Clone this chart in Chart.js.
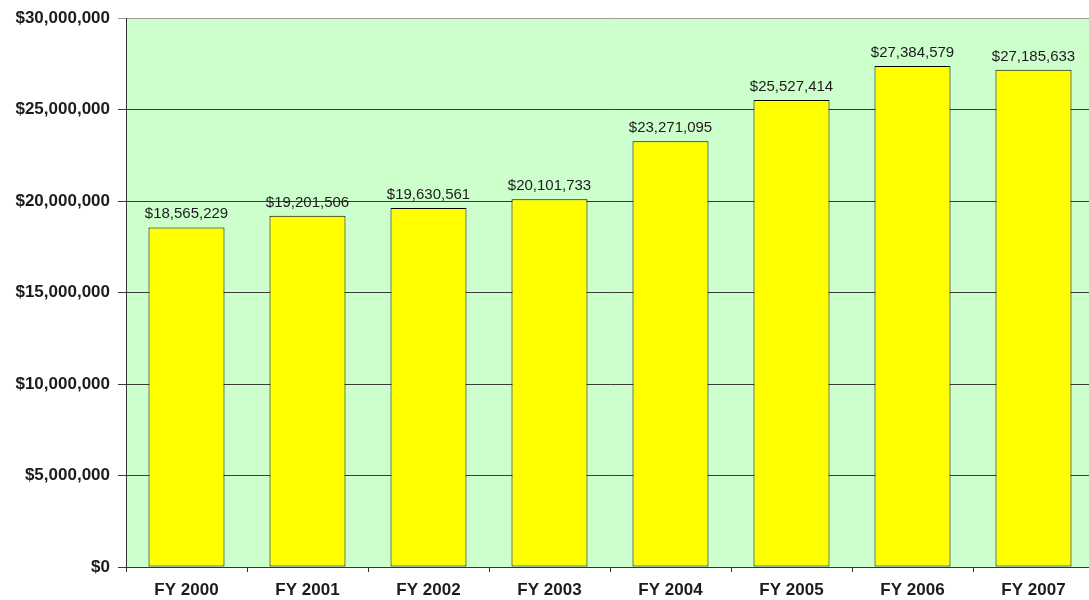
<!DOCTYPE html>
<html>
<head>
<meta charset="utf-8">
<script src="https://cdn.jsdelivr.net/npm/chart.js@4"></script>
<style>
  html, body { margin: 0; padding: 0; background: #fff; overflow: hidden; }
  #wrap { width: 1095px; height: 600px; }
</style>
</head>
<body>
<div id="wrap"><canvas id="fundingChart"></canvas></div>
<script>
// dados do gráfico
const categorias = ['FY 2000', 'FY 2001', 'FY 2002', 'FY 2003', 'FY 2004', 'FY 2005', 'FY 2006', 'FY 2007'];
const valores = [18565229, 19201506, 19630561, 20101733, 23271095, 25527414, 27384579, 27185633];
const yMin = 0;
const yMax = 30000000;
const yPasso = 5000000;

const fmtDolar = v => '$' + Number(v).toLocaleString('en-US');

// fundo verde da área do gráfico
const fundoArea = {
    id: 'fundoArea',
    beforeDraw(chart) {
        const { ctx, chartArea: a } = chart;
        ctx.save();
        ctx.fillStyle = '#ccffcc';
        ctx.fillRect(a.left, a.top, a.right - a.left, a.bottom - a.top);
        ctx.restore();
    }
};

// rótulos de valor acima das barras
const rotulosValor = {
    id: 'rotulosValor',
    afterDatasetsDraw(chart) {
        const { ctx } = chart;
        const meta = chart.getDatasetMeta(0);
        ctx.save();
        ctx.font = '15px "Liberation Sans", Arial, sans-serif';
        ctx.fillStyle = '#1c1c1c';
        ctx.textAlign = 'center';
        ctx.textBaseline = 'alphabetic';
        meta.data.forEach((bar, i) => {
            ctx.fillText(fmtDolar(valores[i]), bar.x, bar.y - 9);
        });
        ctx.restore();
    }
};

const ctx = document.getElementById('fundingChart').getContext('2d');
new Chart(ctx, {
    type: 'bar',
    data: {
        labels: categorias,
        datasets: [{
            data: valores,
            backgroundColor: '#ffff00',
            borderColor: '#000000',
            borderWidth: 1,
            borderSkipped: false,
            categoryPercentage: 1,
            barPercentage: 0.628
        }]
    },
    options: {
        responsive: true,
        maintainAspectRatio: false,
        animation: false,
        layout: { padding: { top: 16, right: 1, left: 0, bottom: 0 } },
        plugins: {
            legend: { display: false },
            tooltip: { enabled: false }
        },
        scales: {
            x: {
                offset: true,
                afterFit(scale) { scale.height = 33; },
                grid: {
                    offset: true,
                    drawOnChartArea: false,
                    drawTicks: true,
                    tickLength: 5,
                    color: '#333'
                },
                border: { display: true, color: '#333', width: 1 },
                ticks: {
                    color: '#1c1c1c',
                    padding: 8,
                    maxRotation: 0,
                    font: { family: '"Liberation Sans", Arial, sans-serif', size: 17, weight: 'bold' }
                }
            },
            y: {
                min: yMin,
                max: yMax,
                afterFit(scale) { scale.width = 126; },
                grid: {
                    color: c => (c.tick && c.tick.value === yMax) ? '#9a9a9a' : '#3a3a3a',
                    tickLength: 8,
                    lineWidth: 1
                },
                border: { display: true, color: '#333', width: 1 },
                ticks: {
                    stepSize: yPasso,
                    color: '#1c1c1c',
                    padding: 8,
                    callback: v => fmtDolar(v),
                    font: { family: '"Liberation Sans", Arial, sans-serif', size: 17, weight: 'bold' }
                }
            }
        }
    },
    plugins: [fundoArea, rotulosValor]
});
</script>
</body>
</html>
